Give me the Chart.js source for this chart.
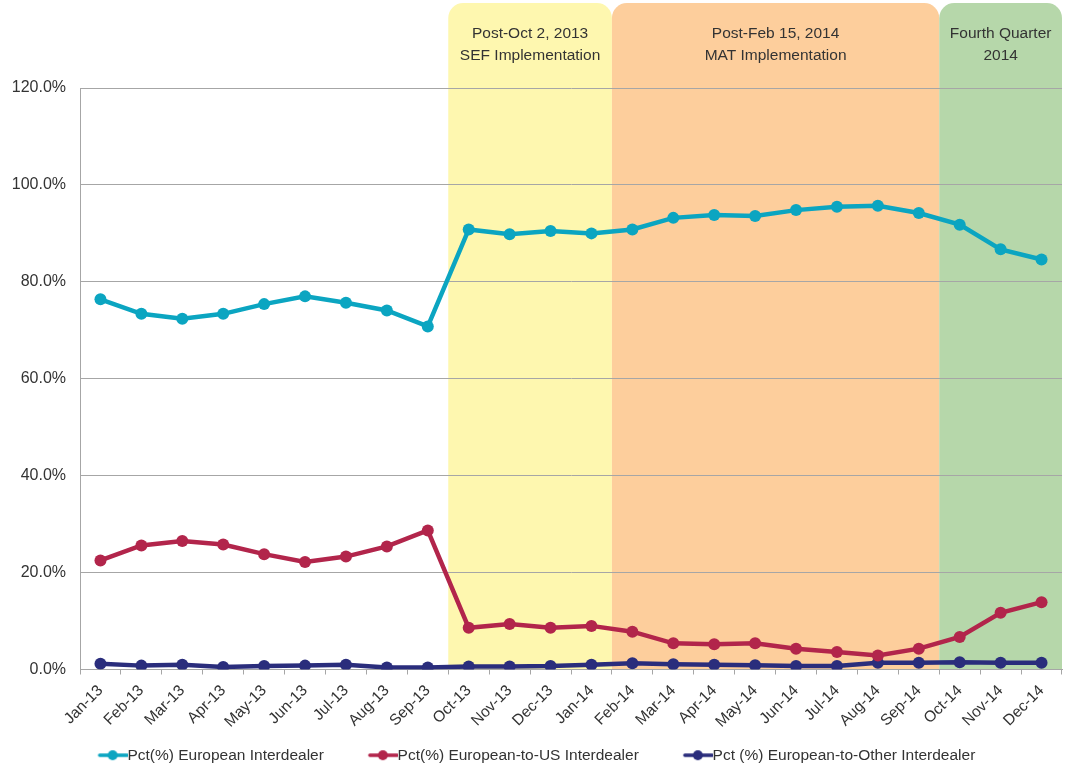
<!DOCTYPE html>
<html>
<head>
<meta charset="utf-8">
<script src="https://cdn.jsdelivr.net/npm/chart.js@4.4.1/dist/chart.umd.min.js"></script>
<style>
  html, body { margin: 0; padding: 0; background: #fff; }
  #wrap { width: 1068px; height: 767px; }
</style>
</head>
<body>
<div id="wrap"><canvas id="myChart" width="1068" height="767"></canvas></div>
<script>
// months on the x axis
const months = ['Jan-13','Feb-13','Mar-13','Apr-13','May-13','Jun-13','Jul-13','Aug-13','Sep-13','Oct-13','Nov-13','Dec-13',
                'Jan-14','Feb-14','Mar-14','Apr-14','May-14','Jun-14','Jul-14','Aug-14','Sep-14','Oct-14','Nov-14','Dec-14'];

// series values (percent)
const europeanInterdealer = [76.4, 73.4, 72.4, 73.4, 75.4, 77.0, 75.7, 74.1, 70.8, 90.8, 89.8, 90.5,
                             90.0, 90.8, 93.2, 93.8, 93.6, 94.8, 95.5, 95.7, 94.2, 91.8, 86.7, 84.6];
const europeanToUS = [22.5, 25.6, 26.5, 25.8, 23.8, 22.2, 23.3, 25.4, 28.7, 8.6, 9.4, 8.6,
                      9.0, 7.8, 5.4, 5.2, 5.4, 4.3, 3.6, 2.9, 4.3, 6.7, 11.7, 13.9];
const europeanToOther = [1.2, 0.8, 1.0, 0.5, 0.7, 0.8, 1.0, 0.4, 0.4, 0.6, 0.6, 0.7,
                         1.0, 1.3, 1.1, 1.0, 0.9, 0.7, 0.7, 1.4, 1.4, 1.5, 1.4, 1.4];

const seriesNames = ['Pct(%) European Interdealer', 'Pct(%) European-to-US Interdealer', 'Pct (%) European-to-Other Interdealer'];
const seriesColors = ['#0ba5c1', '#b2254b', '#2a2d7c'];

// shaded periods: first and last month index, label lines
const periodStart = [9, 13, 21];
const periodEnd = [12, 20, 23];
const periodLabels = [['Post-Oct 2, 2013', 'SEF Implementation'], ['Post-Feb 15, 2014', 'MAT Implementation'], ['Fourth Quarter', '2014']];
const periodColors = ['#fef7af', '#fdce9c', '#b6d7aa'];

const yTicks = [0, 20, 40, 60, 80, 100, 120];

const FONT = '"Liberation Sans", Arial, sans-serif';
const TEXT = '#333333';
const LEGEND_GAP = 46; // empty space before each legend icon

// little line+dot images for the legend (blank space on the left acts as item spacing)
function legendIcon(color) {
    const c = document.createElement('canvas');
    c.width = LEGEND_GAP + 30; c.height = 14;
    const g = c.getContext('2d');
    const x0 = LEGEND_GAP;
    g.strokeStyle = color;
    g.lineWidth = 3.5;
    g.lineCap = 'round';
    g.beginPath(); g.moveTo(x0 + 2, 7); g.lineTo(x0 + 29, 7); g.stroke();
    g.fillStyle = color;
    g.beginPath(); g.arc(x0 + 15, 7, 5, 0, Math.PI * 2); g.fill();
    return c;
}

const periodShading = {
    id: 'periodShading',
    beforeDraw(chart) {
        const ctx = chart.ctx;
        const x = chart.scales.x;
        const area = chart.chartArea;
        const half = (x.getPixelForValue(1) - x.getPixelForValue(0)) / 2;
        ctx.save();
        periodStart.forEach((s, i) => {
            const left = x.getPixelForValue(s) - half;
            const right = x.getPixelForValue(periodEnd[i]) + half;
            const top = 3;
            ctx.fillStyle = periodColors[i];
            ctx.beginPath();
            ctx.roundRect(left, top, right - left, area.bottom - top, [15, 15, 0, 0]);
            ctx.fill();
            ctx.fillStyle = TEXT;
            ctx.font = '15.5px ' + FONT;
            ctx.textAlign = 'center';
            ctx.textBaseline = 'middle';
            periodLabels[i].forEach((line, k) => {
                ctx.fillText(line, (left + right) / 2, 34 + k * 22);
            });
        });
        ctx.restore();
    }
};

// nudge the legend box a bit left and down, as in the original
const legendNudge = {
    id: 'legendNudge',
    afterLayout(chart) {
        const lg = chart.legend;
        lg.left -= 14; lg.right -= 14;
        lg.top += 6; lg.bottom += 6;
    }
};

const datasets = [europeanInterdealer, europeanToUS, europeanToOther].map((vals, i) => ({
    label: seriesNames[i],
    data: vals,
    borderColor: seriesColors[i],
    backgroundColor: seriesColors[i],
    borderWidth: 4.5,
    pointRadius: 6,
    pointHoverRadius: 6,
    pointBackgroundColor: seriesColors[i],
    pointBorderWidth: 0,
    tension: 0,
    pointStyle: 'circle'
}));

const icons = seriesColors.map(legendIcon);

new Chart(document.getElementById('myChart'), {
    type: 'line',
    data: { labels: months, datasets: datasets },
    plugins: [periodShading, legendNudge],
    options: {
        responsive: false,
        animation: false,
        layout: { padding: { top: 88, right: 5, left: 0, bottom: 0 } },
        plugins: {
            tooltip: { enabled: false },
            legend: {
                position: 'bottom',
                labels: {
                    font: { family: FONT, size: 15.5 },
                    color: TEXT,
                    padding: 6,
                    usePointStyle: true,
                    pointStyleWidth: LEGEND_GAP + 30 - 16,
                    generateLabels(chart) {
                        return chart.data.datasets.map((ds, i) => ({
                            text: ds.label,
                            pointStyle: icons[i],
                            fillStyle: ds.borderColor,
                            strokeStyle: ds.borderColor,
                            lineWidth: 0,
                            fontColor: TEXT,
                            datasetIndex: i
                        }));
                    }
                }
            }
        },
        scales: {
            x: {
                offset: true,
                grid: { offset: true, drawOnChartArea: false, color: '#a6a6a6', tickLength: 5 },
                border: { color: '#a6a6a6' },
                afterFit(scale) { scale.height = 66; },
                ticks: {
                    font: { family: FONT, size: 15.5 },
                    color: TEXT,
                    padding: 7,
                    maxRotation: 45,
                    minRotation: 45,
                    autoSkip: false
                }
            },
            y: {
                min: 0,
                max: 120,
                afterBuildTicks(scale) { scale.ticks = yTicks.map(v => ({ value: v })); },
                afterFit(scale) { scale.width = 80; },
                grid: { color: '#a6a6a6', drawTicks: false },
                border: { color: '#a6a6a6' },
                ticks: {
                    font: { family: FONT, size: 16 },
                    color: TEXT,
                    padding: 14,
                    callback: v => v.toFixed(1) + '%'
                }
            }
        }
    }
});
</script>
</body>
</html>
